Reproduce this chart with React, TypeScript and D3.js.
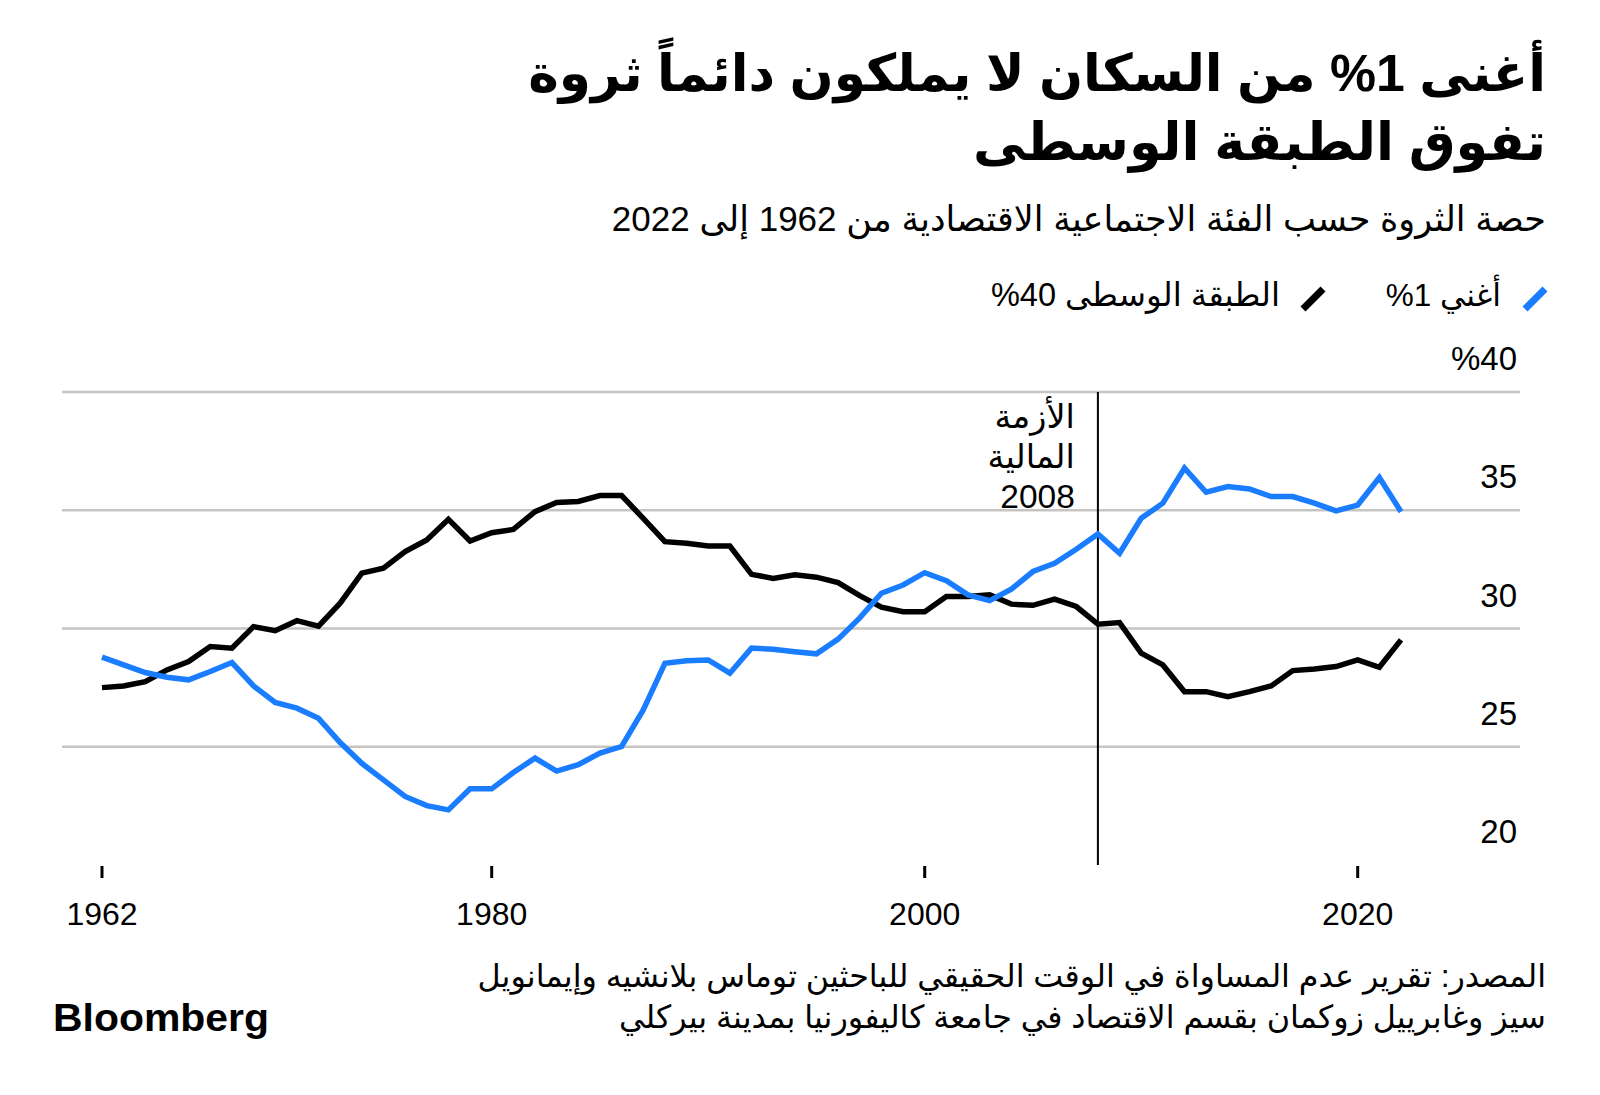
import React from "react";
import * as d3 from "d3";

const years: number[] = d3.range(1962, 2023);

// Share of wealth, middle 40%
const middle40: number[] = [
  27.5, 27.57, 27.75, 28.25, 28.6, 29.24, 29.17, 30.08, 29.91, 30.33,
  30.1, 31.07, 32.34, 32.55, 33.25, 33.74, 34.62, 33.7, 34.05, 34.19,
  34.94, 35.33, 35.37, 35.62, 35.62, 34.66, 33.67, 33.6, 33.49, 33.49,
  32.29, 32.12, 32.27, 32.17, 31.94, 31.39, 30.9, 30.71, 30.71, 31.35,
  31.35, 31.42, 31.03, 30.98, 31.24, 30.93, 30.18, 30.25, 28.96, 28.46,
  27.33, 27.33, 27.12, 27.33, 27.57, 28.22, 28.29, 28.39, 28.67, 28.36,
  29.52,
];

// Share of wealth, top 1%
const top1: number[] = [
  28.79, 28.46, 28.14, 27.94, 27.83, 28.18, 28.56, 27.57, 26.87, 26.63,
  26.2, 25.18, 24.3, 23.6, 22.9, 22.51, 22.33, 23.22, 23.22, 23.91,
  24.52, 23.97, 24.24, 24.73, 25.01, 26.56, 28.53, 28.64, 28.67, 28.11,
  29.17, 29.12, 29.02, 28.93, 29.55, 30.45, 31.49, 31.84, 32.36, 32.02,
  31.42, 31.18, 31.66, 32.41, 32.76, 33.35, 34.0, 33.18, 34.66, 35.3,
  36.78, 35.76, 36.0, 35.9, 35.58, 35.58, 35.3, 34.97, 35.22, 36.38,
  34.94,
];

const yTicks: number[] = [20, 25, 30, 35, 40];
const yTickLabels: string[] = ["20", "25", "30", "35", "%40"];
const gridValues: number[] = [25, 30, 35, 40];
const xTicks: number[] = [1962, 1980, 2000, 2020];
const eventYear = 2008;
const eventLabel: string[] = ["الأزمة", "المالية", "2008"];

const titleLines: string[] = [
  "أغنى 1% من السكان لا يملكون دائماً ثروة",
  "تفوق الطبقة الوسطى",
];
const subtitle = "حصة الثروة حسب الفئة الاجتماعية الاقتصادية من 1962 إلى 2022";
const legendLabels: string[] = ["أغني 1%", "الطبقة الوسطى 40%"];
const sourceLines: string[] = [
  "المصدر: تقرير عدم المساواة في الوقت الحقيقي للباحثين توماس بلانشيه وإيمانويل",
  "سيز وغابرييل زوكمان بقسم الاقتصاد في جامعة كاليفورنيا بمدينة بيركلي",
];

const BLUE = "#1a7dff";
const BLACK = "#000000";
const GRID = "#c7c5c2";
const FONT = "'Liberation Sans', 'DejaVu Sans', sans-serif";

const W = 1600;
const H = 1095;

const x = d3.scaleLinear().domain([1962, 2022]).range([102, 1401]);
const y = d3.scaleLinear().domain([20, 40]).range([865, 392]);

function ArText(props: {
  x: number;
  y: number;
  size: number;
  weight?: number | string;
  children: React.ReactNode;
}) {
  return (
    <text
      x={props.x}
      y={props.y}
      direction="rtl"
      textAnchor="start"
      style={{ unicodeBidi: "embed" as any }}
      fontFamily={FONT}
      fontSize={props.size}
      fontWeight={props.weight ?? 400}
      fill="#000"
    >
      {props.children}
    </text>
  );
}

export default function App() {
  const lineGen = d3
    .line<number>()
    .x((_, i) => x(years[i]))
    .y((d) => y(d));

  return (
    <svg
      width={W}
      height={H}
      viewBox={`0 0 ${W} ${H}`}
      style={{ position: "absolute", left: 0, top: 0, background: "#fff" }}
    >
      <rect x={0} y={0} width={W} height={H} fill="#fff" />

      {/* Title */}
      <ArText x={1546} y={91} size={51.8} weight={700}>
        {titleLines[0]}
      </ArText>
      <ArText x={1546} y={160} size={52.5} weight={700}>
        {titleLines[1]}
      </ArText>

      {/* Subtitle */}
      <ArText x={1546} y={231} size={35}>
        {subtitle}
      </ArText>

      {/* Legend */}
      <line x1={1525} y1={309} x2={1545} y2={289} stroke={BLUE} strokeWidth={7} />
      <ArText x={1501} y={306} size={31.5}>
        {legendLabels[0]}
      </ArText>
      <line x1={1303} y1={309} x2={1323} y2={289} stroke={BLACK} strokeWidth={7} />
      <ArText x={1280} y={306} size={32.5}>
        {legendLabels[1]}
      </ArText>

      {/* Gridlines */}
      {gridValues.map((v) => (
        <line key={v} x1={62} x2={1520} y1={y(v)} y2={y(v)} stroke={GRID} strokeWidth={2.5} />
      ))}

      {/* Y labels */}
      {yTicks.map((v, i) => (
        <text
          key={v}
          x={1517}
          y={y(v) - 22}
          textAnchor="end"
          fontFamily={FONT}
          fontSize={33}
          fill="#000"
        >
          {yTickLabels[i]}
        </text>
      ))}

      {/* X ticks */}
      {xTicks.map((t) => (
        <g key={t}>
          <line x1={x(t)} x2={x(t)} y1={866} y2={878} stroke="#000" strokeWidth={3} />
          <text
            x={x(t)}
            y={925}
            textAnchor="middle"
            fontFamily={FONT}
            fontSize={32}
            fill="#000"
          >
            {t}
          </text>
        </g>
      ))}

      {/* Event line */}
      <line x1={x(eventYear)} x2={x(eventYear)} y1={y(40)} y2={y(20)} stroke="#000" strokeWidth={2} />
      {eventLabel.map((s, i) => (
        <ArText key={i} x={x(eventYear) - 23} y={428 + i * 40} size={33.5}>
          {s}
        </ArText>
      ))}

      {/* Series */}
      <path
        d={lineGen(middle40) || ""}
        fill="none"
        stroke={BLACK}
        strokeWidth={5.5}
        strokeLinejoin="miter"
        strokeMiterlimit={4}
      />
      <path
        d={lineGen(top1) || ""}
        fill="none"
        stroke={BLUE}
        strokeWidth={5.5}
        strokeLinejoin="miter"
        strokeMiterlimit={4}
      />

      {/* Source */}
      <ArText x={1546} y={987} size={31.8}>
        {sourceLines[0]}
      </ArText>
      <ArText x={1546} y={1028} size={31.8}>
        {sourceLines[1]}
      </ArText>

      {/* Logo */}
      <text
        x={53}
        y={1031}
        fontFamily={FONT}
        fontSize={38}
        fontWeight={700}
        textLength={216}
        lengthAdjust="spacingAndGlyphs"
        fill="#000"
      >
        Bloomberg
      </text>
    </svg>
  );
}
